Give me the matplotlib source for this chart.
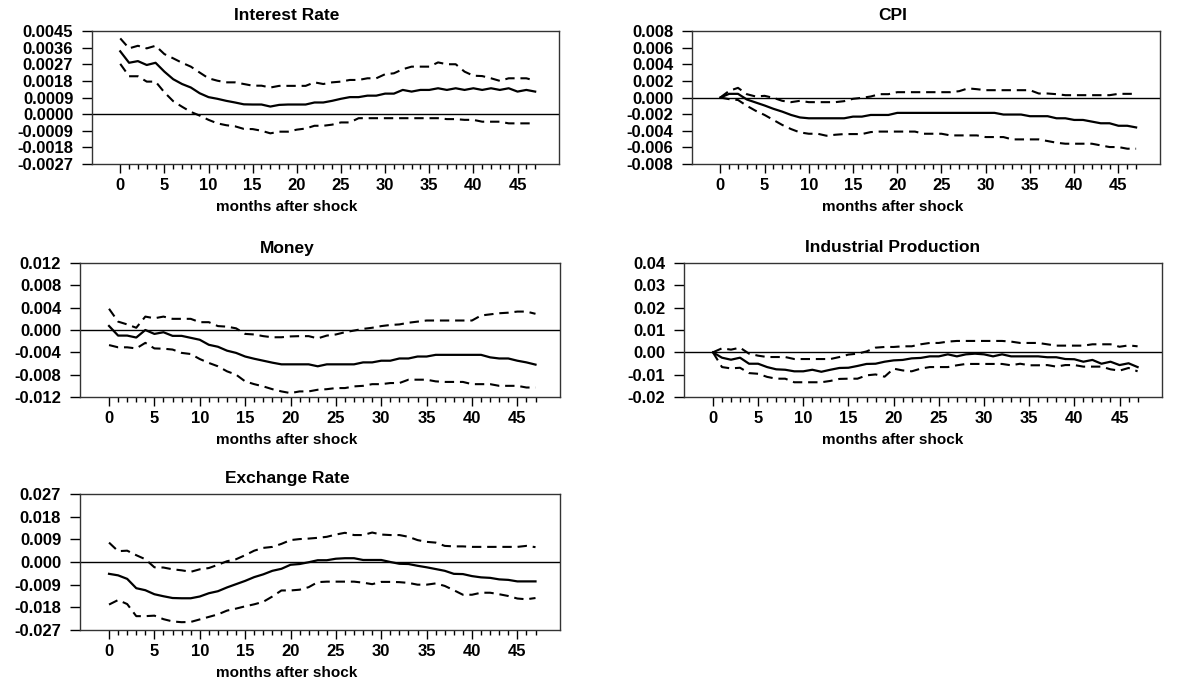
import matplotlib
matplotlib.use('Agg')
import matplotlib.pyplot as plt
from matplotlib.ticker import FixedLocator
import numpy as np

plt.rcParams['font.family'] = ['Liberation Sans', 'DejaVu Sans']
plt.rcParams['font.weight'] = 'bold'

months = np.arange(48)

# Interest Rate
ir_irf = [0.00340, 0.00278, 0.00287, 0.00266, 0.00278, 0.00230, 0.00189, 0.00163, 0.00144, 0.00113,
          0.00092, 0.00083, 0.00072, 0.00063, 0.00053, 0.00052, 0.00052, 0.00041, 0.00050, 0.00052,
          0.00052, 0.00052, 0.00063, 0.00063, 0.00072, 0.00083, 0.00092, 0.00092, 0.00100, 0.00100,
          0.00111, 0.00111, 0.00131, 0.00122, 0.00131, 0.00131, 0.00140, 0.00131, 0.00140, 0.00131,
          0.00140, 0.00131, 0.00140, 0.00131, 0.00140, 0.00122, 0.00131, 0.00122]
ir_up = [0.00410, 0.00356, 0.00370, 0.00356, 0.00370, 0.00325, 0.00302, 0.00278, 0.00257, 0.00225,
         0.00194, 0.00181, 0.00172, 0.00172, 0.00163, 0.00154, 0.00154, 0.00144, 0.00153, 0.00153,
         0.00153, 0.00153, 0.00172, 0.00163, 0.00172, 0.00176, 0.00185, 0.00185, 0.00194, 0.00194,
         0.00216, 0.00221, 0.00243, 0.00257, 0.00257, 0.00257, 0.00280, 0.00270, 0.00270, 0.00230,
         0.00208, 0.00206, 0.00194, 0.00180, 0.00194, 0.00194, 0.00194, 0.00181]
ir_lo = [0.00272, 0.00205, 0.00205, 0.00176, 0.00176, 0.00118, 0.00070, 0.00040, 0.00012, -0.00008,
         -0.00031, -0.00050, -0.00060, -0.00066, -0.00080, -0.00081, -0.00090, -0.00104, -0.00095, -0.00095,
         -0.00084, -0.00078, -0.00063, -0.00063, -0.00057, -0.00045, -0.00045, -0.00022, -0.00022, -0.00022,
         -0.00022, -0.00022, -0.00022, -0.00022, -0.00022, -0.00022, -0.00022, -0.00027, -0.00027, -0.00031,
         -0.00031, -0.00041, -0.00041, -0.00041, -0.00050, -0.00050, -0.00050, -0.00050]

# CPI
cpi_irf = [0.0, 0.00044, 0.00044, -0.00024, -0.00060, -0.00096, -0.00136, -0.00170, -0.00210, -0.00240,
           -0.00250, -0.00250, -0.00250, -0.00250, -0.00250, -0.00230, -0.00230, -0.00210, -0.00210, -0.00210,
           -0.00185, -0.00185, -0.00185, -0.00185, -0.00185, -0.00185, -0.00185, -0.00185, -0.00185, -0.00185,
           -0.00185, -0.00185, -0.00205, -0.00205, -0.00205, -0.00225, -0.00225, -0.00225, -0.00250, -0.00250,
           -0.00270, -0.00270, -0.00290, -0.00310, -0.00310, -0.00340, -0.00340, -0.00360]
cpi_up = [0.0, 0.00080, 0.00116, 0.00040, 0.00012, 0.00020, -0.00004, -0.00040, -0.00056, -0.00040,
          -0.00056, -0.00056, -0.00056, -0.00056, -0.00044, -0.00016, -0.00004, 0.00012, 0.00040, 0.00040,
          0.00064, 0.00064, 0.00064, 0.00064, 0.00064, 0.00064, 0.00064, 0.00076, 0.00110, 0.00100,
          0.00088, 0.00088, 0.00088, 0.00088, 0.00088, 0.00088, 0.00048, 0.00048, 0.00040, 0.00028,
          0.00028, 0.00028, 0.00028, 0.00028, 0.00028, 0.00044, 0.00044, 0.00044]
cpi_lo = [0.0, -0.00020, -0.00030, -0.00100, -0.00160, -0.00210, -0.00270, -0.00330, -0.00380, -0.00420,
          -0.00436, -0.00436, -0.00460, -0.00448, -0.00440, -0.00440, -0.00440, -0.00416, -0.00410, -0.00410,
          -0.00410, -0.00410, -0.00410, -0.00436, -0.00436, -0.00436, -0.00456, -0.00456, -0.00456, -0.00456,
          -0.00476, -0.00476, -0.00476, -0.00504, -0.00504, -0.00504, -0.00504, -0.00524, -0.00544, -0.00556,
          -0.00556, -0.00556, -0.00556, -0.00576, -0.00596, -0.00596, -0.00616, -0.00616]

# Money
m_irf = [0.00072, -0.00100, -0.00100, -0.00135, 0.0, -0.00070, -0.00040, -0.00105, -0.00105, -0.00140,
         -0.00175, -0.00265, -0.00300, -0.00370, -0.00410, -0.00475, -0.00515, -0.00550, -0.00585, -0.00615,
         -0.00615, -0.00615, -0.00615, -0.00650, -0.00615, -0.00615, -0.00615, -0.00615, -0.00580, -0.00580,
         -0.00550, -0.00550, -0.00510, -0.00510, -0.00475, -0.00475, -0.00445, -0.00445, -0.00445, -0.00445,
         -0.00445, -0.00445, -0.00490, -0.00510, -0.00510, -0.00550, -0.00580, -0.00620]
m_up = [0.00380, 0.00150, 0.00100, 0.00040, 0.00240, 0.00210, 0.00240, 0.00200, 0.00200, 0.00200,
        0.00140, 0.00140, 0.00070, 0.00060, 0.00030, -0.00070, -0.00080, -0.00110, -0.00130, -0.00130,
        -0.00115, -0.00110, -0.00110, -0.00150, -0.00100, -0.00080, -0.00040, -0.00010, 0.00020, 0.00040,
        0.00070, 0.00090, 0.00100, 0.00130, 0.00150, 0.00170, 0.00170, 0.00170, 0.00170, 0.00170,
        0.00170, 0.00260, 0.00280, 0.00300, 0.00310, 0.00330, 0.00330, 0.00290]
m_lo = [-0.00270, -0.00310, -0.00310, -0.00330, -0.00230, -0.00330, -0.00335, -0.00350, -0.00410, -0.00430,
        -0.00520, -0.00590, -0.00650, -0.00740, -0.00800, -0.00920, -0.00970, -0.01010, -0.01060, -0.01100,
        -0.01130, -0.01100, -0.01100, -0.01070, -0.01060, -0.01040, -0.01040, -0.01010, -0.01000, -0.00970,
        -0.00970, -0.00950, -0.00950, -0.00890, -0.00890, -0.00890, -0.00920, -0.00930, -0.00930, -0.00930,
        -0.00970, -0.00970, -0.00970, -0.01000, -0.01000, -0.01000, -0.01030, -0.01030]

# Industrial Production
ip_irf = [0.0, -0.0024, -0.0033, -0.0024, -0.0051, -0.0051, -0.0066, -0.0076, -0.0078, -0.0085,
          -0.0085, -0.0078, -0.0087, -0.0078, -0.0070, -0.0069, -0.0061, -0.0052, -0.0051, -0.0042,
          -0.0036, -0.0034, -0.0027, -0.0025, -0.0018, -0.0018, -0.0009, -0.0018, -0.0009, -0.0006,
          -0.0009, -0.0018, -0.0009, -0.0018, -0.0018, -0.0018, -0.0018, -0.0022, -0.0022, -0.0030,
          -0.0031, -0.0042, -0.0034, -0.0051, -0.0042, -0.0057, -0.0049, -0.0066]
ip_up = [0.0, 0.0018, 0.0012, 0.0021, -0.0006, -0.0015, -0.0021, -0.0021, -0.0021, -0.0030,
         -0.0030, -0.0030, -0.0030, -0.0030, -0.0021, -0.0010, -0.0006, 0.0004, 0.0021, 0.0024,
         0.0024, 0.0027, 0.0027, 0.0036, 0.0042, 0.0042, 0.0048, 0.0051, 0.0051, 0.0051,
         0.0051, 0.0051, 0.0051, 0.0048, 0.0042, 0.0042, 0.0042, 0.0036, 0.0030, 0.0030,
         0.0030, 0.0030, 0.0036, 0.0036, 0.0036, 0.0025, 0.0031, 0.0027]
ip_lo = [0.0, -0.0066, -0.0072, -0.0069, -0.0093, -0.0096, -0.0110, -0.0118, -0.0118, -0.0134,
         -0.0134, -0.0134, -0.0134, -0.0128, -0.0119, -0.0118, -0.0118, -0.0103, -0.0099, -0.0109,
         -0.0073, -0.0081, -0.0085, -0.0073, -0.0066, -0.0066, -0.0066, -0.0058, -0.0052, -0.0052,
         -0.0052, -0.0052, -0.0052, -0.0058, -0.0051, -0.0058, -0.0058, -0.0057, -0.0064, -0.0057,
         -0.0057, -0.0064, -0.0064, -0.0064, -0.0076, -0.0082, -0.0070, -0.0085]

# Exchange Rate
ex_irf = [-0.0047, -0.0053, -0.0067, -0.0104, -0.0112, -0.0128, -0.0136, -0.0143, -0.0144, -0.0144,
          -0.0137, -0.0124, -0.0116, -0.0101, -0.0088, -0.0075, -0.0060, -0.0049, -0.0035, -0.0027,
          -0.0011, -0.0008, -0.0001, 0.0007, 0.0007, 0.0013, 0.0015, 0.0015, 0.0008, 0.0008,
          0.0008, 0.0000, -0.0007, -0.0008, -0.0015, -0.0021, -0.0028, -0.0035, -0.0047, -0.0048,
          -0.0056, -0.0061, -0.0063, -0.0069, -0.0071, -0.0077, -0.0077, -0.0077]
ex_up = [0.0077, 0.0043, 0.0045, 0.0027, 0.0011, -0.0021, -0.0022, -0.0029, -0.0033, -0.0039,
         -0.0029, -0.0024, -0.0011, 0.0003, 0.0011, 0.0027, 0.0045, 0.0056, 0.0060, 0.0072,
         0.0087, 0.0091, 0.0093, 0.0096, 0.0100, 0.0109, 0.0116, 0.0107, 0.0107, 0.0117,
         0.0109, 0.0107, 0.0107, 0.0100, 0.0087, 0.0080, 0.0077, 0.0064, 0.0062, 0.0062,
         0.0060, 0.0060, 0.0060, 0.0060, 0.0060, 0.0060, 0.0064, 0.0059]
ex_lo = [-0.0169, -0.0151, -0.0167, -0.0215, -0.0215, -0.0213, -0.0227, -0.0236, -0.0239, -0.0238,
         -0.0228, -0.0218, -0.0208, -0.0193, -0.0185, -0.0176, -0.0168, -0.0158, -0.0137, -0.0113,
         -0.0113, -0.0110, -0.0100, -0.0080, -0.0078, -0.0078, -0.0078, -0.0078, -0.0082, -0.0088,
         -0.0079, -0.0079, -0.0080, -0.0083, -0.0090, -0.0090, -0.0085, -0.0095, -0.0112, -0.0130,
         -0.0130, -0.0122, -0.0122, -0.0128, -0.0135, -0.0145, -0.0148, -0.0143]

W, H = 1177, 684
fig = plt.figure(figsize=(W / 100, H / 100), dpi=100)

# (title, irf, upper, lower, ylim, ystep, decimals, axes box in px (l, r, t, b), text centre x)
panels = [
    ('Interest Rate', ir_irf, ir_up, ir_lo, (-0.0027, 0.0045), 0.0009, 4, (92, 559, 31, 164), 287),
    ('CPI', cpi_irf, cpi_up, cpi_lo, (-0.008, 0.008), 0.002, 3, (692, 1160, 31, 164), 893),
    ('Money', m_irf, m_up, m_lo, (-0.012, 0.012), 0.004, 3, (80, 560, 263, 397), 287),
    ('Industrial Production', ip_irf, ip_up, ip_lo, (-0.02, 0.04), 0.01, 2, (684, 1162, 263, 397), 893),
    ('Exchange Rate', ex_irf, ex_up, ex_lo, (-0.027, 0.027), 0.009, 3, (80, 560, 494, 630), 287),
]

for title, irf, up, lo, ylim, ystep, dec, (l, r, t, b), cx in panels:
    ax = fig.add_axes([l / W, 1 - b / H, (r - l) / W, (b - t) / H])
    ax.axhline(0, color='black', lw=1.0)
    ax.plot(months, irf, color='black', lw=1.6)
    ax.plot(months, up, color='black', lw=1.5, dashes=(4.5, 2.8))
    ax.plot(months, lo, color='black', lw=1.5, dashes=(4.5, 2.8))

    ax.set_xlim(-3.2, 49.7)
    ax.set_ylim(*ylim)
    ax.set_xticks(np.arange(0, 46, 5))
    ax.xaxis.set_minor_locator(FixedLocator(months))
    yt = np.round(np.arange(ylim[0], ylim[1] + ystep / 2, ystep), 6)
    ax.set_yticks(yt)
    ax.set_yticklabels([f'{v:.{dec}f}' if abs(v) > 1e-9 else f'{0:.{dec}f}' for v in yt])

    ax.tick_params(axis='x', which='major', direction='out', length=6.5, width=1,
                   pad=3.5, labelsize=12)
    ax.tick_params(axis='x', which='minor', direction='out', length=3.6, width=1)
    ax.tick_params(axis='y', direction='out', length=7.5, width=1, pad=6, labelsize=12)
    for lab in ax.get_xticklabels() + ax.get_yticklabels():
        lab.set_fontweight('bold')
    for sp in ax.spines.values():
        sp.set_color('#333333')
        sp.set_linewidth(1.0)

    fig.text(cx / W, 1 - (t - 15) / H, title, ha='center', va='center',
             fontsize=12.5, fontweight='bold')
    fig.text(cx / W, 1 - (b + 43) / H, 'months after shock', ha='center', va='center',
             fontsize=11, fontweight='bold')

fig.savefig('out.png', dpi=100)
